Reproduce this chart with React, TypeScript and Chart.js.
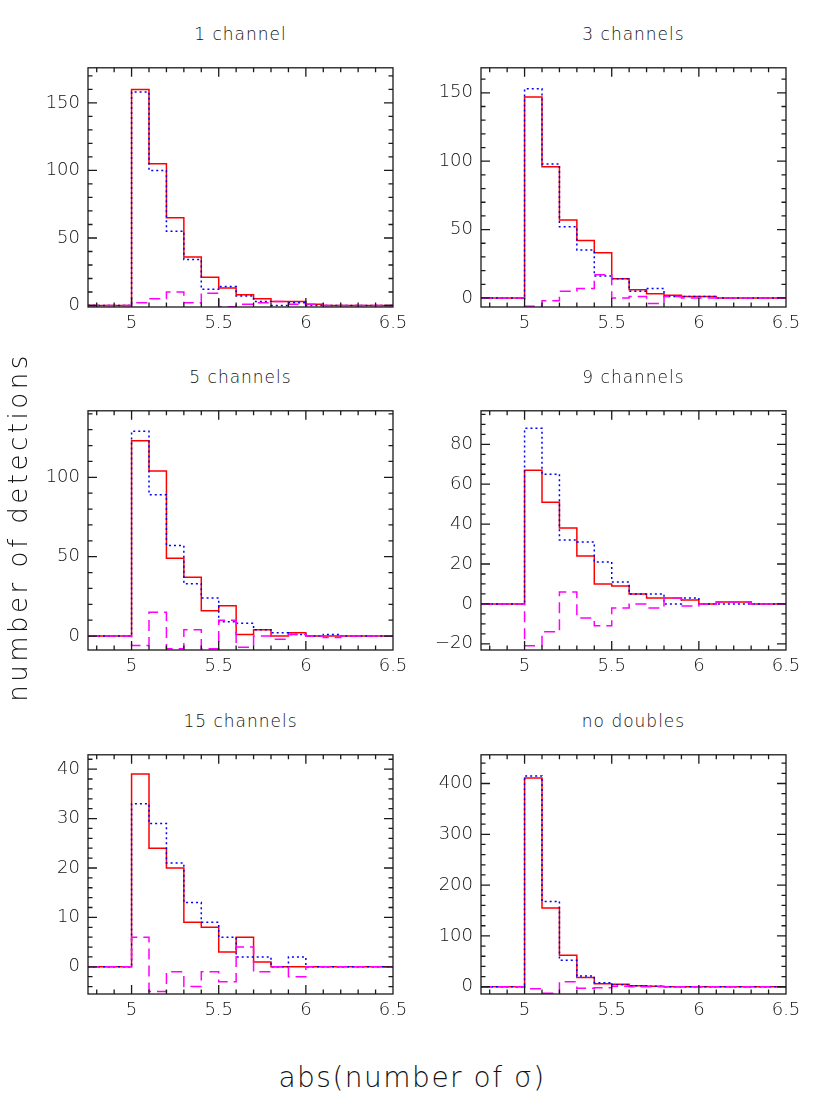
import React, { useEffect, useRef } from 'react';
import { Chart, registerables } from 'chart.js';

Chart.register(...registerables);

// ---------- data ----------
const X_MIN = 4.75;
const X_MAX = 6.5;
const BIN_LEFT_EDGES = [5.0, 5.1, 5.2, 5.3, 5.4, 5.5, 5.6, 5.7, 5.8, 5.9, 6.0, 6.1, 6.2, 6.3, 6.4];
const X_TICK_LABELS = [5, 5.5, 6, 6.5];

const TITLES = ['1 channel', '3 channels', '5 channels', '9 channels', '15 channels', 'no doubles'];

const RED_1 = [160, 105, 65, 36, 21, 13, 8, 5, 3, 3, 1, 0, 0, 0, 0];
const BLUE_1 = [158, 100, 55, 34, 12, 14, 7, 3, 0, 2, 0, 0, 0, 0, 0];
const MAG_1 = [2, 5, 10, 2, 9, -1, 1, 2, 3, 1, 1, 0, 0, 0, 0];

const RED_3 = [147, 96, 57, 42, 33, 14, 6, 3, 2, 1, 1, 0, 0, 0, 0];
const BLUE_3 = [153, 98, 52, 35, 16, 14, 5, 7, 1, 1, 1, 0, 0, 0, 0];
const MAG_3 = [-6, -2, 5, 7, 17, 0, 1, -4, 1, 0, 0, 0, 0, 0, 0];

const RED_5 = [123, 104, 49, 37, 16, 19, 1, 4, 0, 2, 0, 0, 0, 0, 0];
const BLUE_5 = [129, 89, 57, 33, 24, 9, 8, 4, 2, 1, 0, 1, 0, 0, 0];
const MAG_5 = [-6, 15, -8, 4, -8, 10, -7, 0, -2, 1, 0, -1, 0, 0, 0];

const RED_9 = [67, 51, 38, 24, 10, 9, 5, 3, 3, 2, 0, 1, 1, 0, 0];
const BLUE_9 = [88, 65, 32, 31, 21, 11, 5, 5, 0, 3, 0, 0, 0, 0, 0];
const MAG_9 = [-21, -14, 6, -7, -11, -2, 0, -2, 3, -1, 0, 1, 1, 0, 0];

const RED_15 = [39, 24, 20, 9, 8, 3, 6, 1, 0, 0, 0, 0, 0, 0, 0];
const BLUE_15 = [33, 29, 21, 13, 9, 6, 2, 2, 0, 2, 0, 0, 0, 0, 0];
const MAG_15 = [6, -5, -1, -4, -1, -3, 4, -1, 0, -2, 0, 0, 0, 0, 0];

const RED_ND = [411, 155, 62, 18, 6, 5, 2, 1, 0, 0, 0, 0, 0, 0, 0];
const BLUE_ND = [415, 168, 52, 21, 8, 4, 2, 1, 0, 0, 0, 0, 0, 0, 0];
const MAG_ND = [-4, -13, 10, -3, -2, 1, 0, 0, 0, 0, 0, 0, 0, 0, 0];

const RED = [RED_1, RED_3, RED_5, RED_9, RED_15, RED_ND];
const BLUE = [BLUE_1, BLUE_3, BLUE_5, BLUE_9, BLUE_15, BLUE_ND];
const MAG = [MAG_1, MAG_3, MAG_5, MAG_9, MAG_15, MAG_ND];

const Y_MIN = [-1.1, -6.6, -8.8, -23.1, -5.5, -14.3];
const Y_MAX = [176, 168.3, 141.9, 96.8, 42.9, 456.5];
const Y_TICK_LABELS = [
  [0, 50, 100, 150],
  [0, 50, 100, 150],
  [0, 50, 100],
  [-20, 0, 20, 40, 60, 80],
  [0, 10, 20, 30, 40],
  [0, 100, 200, 300, 400],
];
const Y_MINOR_STEP = [10, 10, 10, 5, 2, 20];
const X_MINOR_STEP = 0.1;

// ---------- layout ----------
const COL_LEFT = [88, 481];
const ROW_TOP = [59, 402, 746];
const PLOT_W = 305;
const PLOT_H = 248;
const PAD_L = 70;
const PAD_T = 10;
const PAD_R = 30;
const PAD_B = 40;
const FONT = '"DejaVu Sans", sans-serif';
const TEXT_COLOR = '#111';

function histPoints(vals: number[]) {
  const pts = [{ x: X_MIN, y: 0 }];
  BIN_LEFT_EDGES.forEach((e, i) => pts.push({ x: e, y: vals[i] }));
  pts.push({ x: X_MAX, y: vals[vals.length - 1] });
  return pts;
}

const framePlugin = {
  id: 'frame',
  afterDraw(chart: any, _args: any, opts: any) {
    const { ctx, chartArea } = chart;
    const { left, right, top, bottom } = chartArea;
    const xs = chart.scales.x;
    const ys = chart.scales.y;
    ctx.save();
    ctx.strokeStyle = '#1a1a1a';
    ctx.lineWidth = 1.3;
    ctx.beginPath();
    const minorLen = 4.5;
    const majorLen = 9;
    const xMajor: number[] = opts.xMajor;
    for (let k = Math.ceil(xs.min / opts.xMinor - 1e-6); k * opts.xMinor <= xs.max + 1e-6; k++) {
      const v = k * opts.xMinor;
      const px = xs.getPixelForValue(v);
      if (px <= left + 0.5 || px >= right - 0.5) continue;
      const isMajor = xMajor.some((m) => Math.abs(m - v) < 1e-6);
      const len = isMajor ? majorLen : minorLen;
      ctx.moveTo(px, bottom);
      ctx.lineTo(px, bottom - len);
      ctx.moveTo(px, top);
      ctx.lineTo(px, top + len);
    }
    const yMajor: number[] = opts.yMajor;
    for (let k = Math.ceil(ys.min / opts.yMinor - 1e-6); k * opts.yMinor <= ys.max + 1e-6; k++) {
      const v = k * opts.yMinor;
      const py = ys.getPixelForValue(v);
      if (py <= top + 0.5 || py >= bottom - 0.5) continue;
      const isMajor = yMajor.some((m) => Math.abs(m - v) < 1e-6);
      const len = isMajor ? majorLen : minorLen;
      ctx.moveTo(left, py);
      ctx.lineTo(left + len, py);
      ctx.moveTo(right, py);
      ctx.lineTo(right - len, py);
    }
    ctx.stroke();
    ctx.strokeRect(left, top, right - left, bottom - top);
    ctx.restore();
  },
};

function Panel({ idx }: { idx: number }) {
  const ref = useRef<HTMLCanvasElement | null>(null);
  const col = idx % 2;
  const row = Math.floor(idx / 2);
  const plotLeft = COL_LEFT[col];
  const plotTop = ROW_TOP[row];
  const w = PAD_L + PLOT_W + PAD_R;
  const h = PAD_T + PLOT_H + PAD_B;

  useEffect(() => {
    if (!ref.current) return;
    const chart = new Chart(ref.current, {
      type: 'line',
      data: {
        datasets: [
          {
            data: histPoints(MAG[idx]),
            borderColor: '#ff00ff',
            borderWidth: 1.5,
            borderDash: [11, 6],
            stepped: 'before',
            pointRadius: 0,
            fill: false,
          },
          {
            data: histPoints(BLUE[idx]),
            borderColor: '#0000ff',
            borderWidth: 1.5,
            borderDash: [2, 3],
            stepped: 'before',
            pointRadius: 0,
            fill: false,
          },
          {
            data: histPoints(RED[idx]),
            borderColor: '#ff0000',
            borderWidth: 1.5,
            stepped: 'before',
            pointRadius: 0,
            fill: false,
          },
        ],
      },
      options: {
        animation: false,
        responsive: false,
        devicePixelRatio: 1,
        layout: { padding: { left: 0, top: PAD_T, right: PAD_R, bottom: 0 } },
        plugins: {
          legend: { display: false },
          tooltip: { enabled: false },
          frame: {
            xMinor: X_MINOR_STEP,
            xMajor: X_TICK_LABELS,
            yMinor: Y_MINOR_STEP[idx],
            yMajor: Y_TICK_LABELS[idx],
          },
        } as any,
        scales: {
          x: {
            type: 'linear',
            min: X_MIN,
            max: X_MAX,
            grid: { display: false, drawTicks: false },
            border: { display: false },
            afterBuildTicks: (s: any) => {
              s.ticks = X_TICK_LABELS.map((v) => ({ value: v }));
            },
            afterFit: (s: any) => {
              s.height = PAD_B;
            },
            ticks: {
              autoSkip: false,
              maxRotation: 0,
              padding: 6,
              color: TEXT_COLOR,
              font: { family: FONT, size: 18, weight: 300 },
              callback: (v: any) => String(v),
            },
          },
          y: {
            type: 'linear',
            min: Y_MIN[idx],
            max: Y_MAX[idx],
            grid: { display: false, drawTicks: false },
            border: { display: false },
            afterBuildTicks: (s: any) => {
              s.ticks = Y_TICK_LABELS[idx].map((v) => ({ value: v }));
            },
            afterFit: (s: any) => {
              s.width = PAD_L;
            },
            ticks: {
              autoSkip: false,
              padding: 8,
              color: TEXT_COLOR,
              font: { family: FONT, size: 18, weight: 300 },
              callback: (v: any) => (v < 0 ? '\u2212' + Math.abs(v) : String(v)),
            },
          },
        },
      },
      plugins: [framePlugin],
    } as any);
    return () => chart.destroy();
  }, [idx]);

  return (
    <>
      <div
        style={{
          position: 'absolute',
          left: plotLeft,
          top: plotTop - 25 - 12,
          width: PLOT_W,
          height: 24,
          lineHeight: '24px',
          textAlign: 'center',
          fontFamily: FONT,
          fontSize: 17,
          fontWeight: 300,
          letterSpacing: '1px',
          color: TEXT_COLOR,
        }}
      >
        {TITLES[idx]}
      </div>
      <canvas
        ref={ref}
        width={w}
        height={h}
        style={{ position: 'absolute', left: plotLeft - PAD_L, top: plotTop - PAD_T, width: w, height: h }}
      />
    </>
  );
}

export default function App() {
  return (
    <div
      style={{
        position: 'absolute',
        left: 0,
        top: 0,
        width: 830,
        height: 1106,
        background: '#fff',
        overflow: 'hidden',
        fontFamily: FONT,
      }}
    >
      {[0, 1, 2, 3, 4, 5].map((i) => (
        <Panel key={i} idx={i} />
      ))}
      <div
        style={{
          position: 'absolute',
          left: 18 - 200,
          top: 527 - 20,
          width: 400,
          height: 40,
          lineHeight: '40px',
          textAlign: 'center',
          transform: 'rotate(-90deg)',
          fontSize: 26,
          fontWeight: 300,
          letterSpacing: '3.5px',
          color: TEXT_COLOR,
          whiteSpace: 'nowrap',
        }}
      >
        number of detections
      </div>
      <div
        style={{
          position: 'absolute',
          left: 412 - 200,
          top: 1078 - 20,
          width: 400,
          height: 40,
          lineHeight: '40px',
          textAlign: 'center',
          fontSize: 28,
          fontWeight: 300,
          letterSpacing: '1.5px',
          color: TEXT_COLOR,
          whiteSpace: 'nowrap',
        }}
      >
        abs(number of σ)
      </div>
    </div>
  );
}
